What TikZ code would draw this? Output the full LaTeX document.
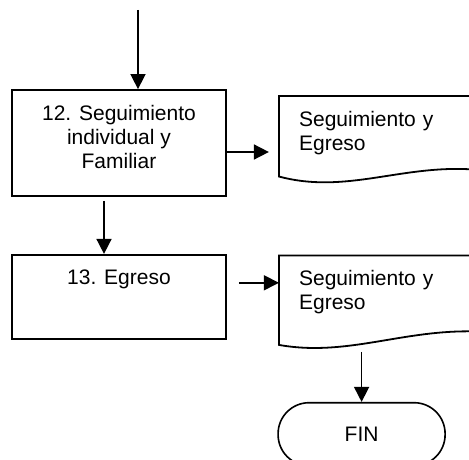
\documentclass[tikz,border=0pt]{standalone}
\usepackage{fontspec}
\setmainfont{Liberation Sans}
\usetikzlibrary{arrows.meta,positioning}

\begin{document}
\begin{tikzpicture}[x=1pt, y=-1pt, >={Triangle[length=15pt,width=15pt]},
	font=\fontsize{21}{24}\selectfont,
	proc/.style={draw, line width=1.8pt, minimum width=214pt, align=center},
	docu/.style={minimum width=194pt, minimum height=73pt, text width=154pt,
		inner xsep=20pt, align=left, anchor=north west},
	arr/.style={->, line width=1.6pt}]
	\useasboundingbox (0,0) rectangle (469,460);

	% Process boxes {p12, p13}
	\node [proc, minimum height=106pt, text depth=12pt] (p12) at (119,143)
		{12. Seguimiento\\individual y\\Familiar};
	\node [proc, minimum height=84pt, inner ysep=0pt, text height=30pt,
		text depth=54pt] (p13) [below=57pt of p12] {13. Egreso};

	% Documents {d1, d2}
	\node [docu] (d1) [right=52pt of p12.north east, anchor=north west,
		yshift=-7pt] {Seguimiento y\\Egreso};
	\node [docu] (d2) [below=86pt of d1] {Seguimiento y\\Egreso};
	\draw [line width=1.8pt] (d1.south east) -- (d1.north east) -- (d1.north west)
		-- ([yshift=-7pt]d1.south west) .. controls +(67,18) and +(-72,-5) .. (d1.south east);
	\draw [line width=1.8pt] ([yshift=-2.5pt]d2.south east) -- (d2.north east) -- (d2.north west)
		-- ([yshift=-16pt]d2.south west) .. controls +(67,12) and +(-72,-1.5) .. ([yshift=-2.5pt]d2.south east);

	% End
	\node [draw, line width=1.6pt, rounded corners=31pt, minimum width=167pt,
		minimum height=63pt] (fin) [below=73pt of d2, xshift=-14.5pt] {FIN};

	% Arrows
	\coordinate (ini) at (138,10);
	\draw [arr] (ini) -- (ini |- p12.north);
	\draw [arr, shorten <=4pt] ([xshift=-15pt]p12.south) -- ([xshift=-15pt]p13.north);
	\draw [arr, shorten >=10pt] ([yshift=-9pt]p12.east) -- ([yshift=-9pt]p12.east -| d1.west);
	\draw [arr, shorten <=12pt] ([yshift=14pt]p13.east) -- ([yshift=14pt]p13.east -| d2.west);
	\draw [arr, shorten <=23pt] (fin.north |- d2.south) -- (fin.north);

\end{tikzpicture}
\end{document}
